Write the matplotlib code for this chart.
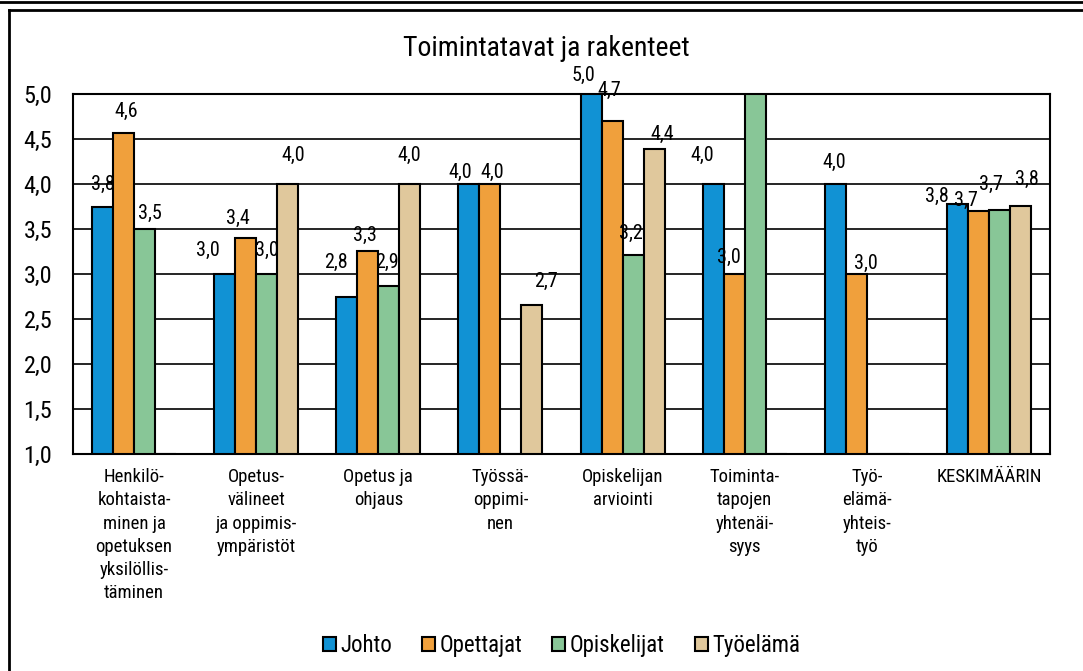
import numpy as np
import matplotlib
matplotlib.use('Agg')
import matplotlib.pyplot as plt
from matplotlib.lines import Line2D

plt.rcParams['font.family'] = ['Roboto Condensed', 'DejaVu Sans']

categories = ['Henkilö-\nkohtaista-\nminen ja\nopetuksen\nyksilöllis-\ntäminen',
              'Opetus-\nvälineet\nja oppimis-\nympäristöt',
              'Opetus ja\nohjaus',
              'Työssä-\noppimi-\nnen',
              'Opiskelijan\narviointi',
              'Toiminta-\ntapojen\nyhtenäi-\nsyys',
              'Työ-\nelämä-\nyhteis-\ntyö',
              'KESKIMÄÄRIN']
series = ['Johto', 'Opettajat', 'Opiskelijat', 'Työelämä']
johto = [3.75, 3.0, 2.75, 4.0, 5.0, 4.0, 4.0, 3.78]
opettajat = [4.57, 3.4, 3.26, 4.0, 4.70, 3.0, 3.0, 3.70]
opiskelijat = [3.5, 3.0, 2.87, 0, 3.21, 5.0, 0, 3.71]
tyoelama = [0, 4.0, 4.0, 2.66, 4.39, 0, 0, 3.76]
colors = ['#1192d4', '#f0a03c', '#88c697', '#e0c89c']

values = [johto, opettajat, opiskelijat, tyoelama]

# label placement (pixels: dx, dy above bar top), as in the original
label_off = {
    (0, 0): (0, 22), (1, 0): (3, 21), (2, 0): (5, 16),
    (0, 1): (-17, 24), (1, 1): (-8, 20), (2, 1): (0, 24), (3, 1): (6, 29),
    (0, 2): (-11, 34), (1, 2): (-3, 15), (2, 2): (-2, 23), (3, 2): (-1, 29),
    (0, 3): (-9, 12), (1, 3): (2, 12), (3, 3): (14, 23),
    (0, 4): (-8, 19), (1, 4): (-3, 31), (2, 4): (-2, 22), (3, 4): (8, 14),
    (0, 5): (-11, 29), (1, 5): (-5, 17),
    (0, 6): (-1, 22), (1, 6): (10, 11),
    (0, 7): (-21, 7), (1, 7): (-12, 11), (2, 7): (-8, 26), (3, 7): (6, 26),
}

fig = plt.figure(figsize=(10.83, 6.71), dpi=100)
ax = fig.add_axes([0.0674, 0.3234, 0.9021, 0.5365])

x = np.arange(len(categories))
w = 0.172
for s, vals in enumerate(values):
    pos = x + (s - 1.5) * w
    h = [max(v - 1, 0) for v in vals]
    ax.bar(pos, h, w, bottom=1, color=colors[s], edgecolor='black', linewidth=1.5,
           label=series[s], zorder=3)
    for i, v in enumerate(vals):
        if (s, i) in label_off:
            dx, dy = label_off[(s, i)]
            ax.annotate(f'{v:.1f}'.replace('.', ','), (pos[i], v),
                        xytext=(dx * 0.72, dy * 0.72),
                        textcoords='offset points', ha='center', va='center',
                        fontsize=14.5, zorder=4)

ax.set_xlim(-0.5, len(categories) - 0.5)
ax.set_ylim(1, 5)
ticks = np.arange(1, 5.01, 0.5)
ax.set_yticks(ticks)
ax.set_yticklabels([f'{t:.1f}'.replace('.', ',') for t in ticks], fontsize=17.5)
ax.yaxis.grid(True, color='black', linewidth=1.2, zorder=0)
ax.tick_params(axis='y', length=0, pad=15)
ax.tick_params(axis='x', length=0, pad=10)
ax.set_xticks(x)
ax.set_xticklabels(categories, fontsize=13.5, linespacing=1.38, va='top')
for sp in ax.spines.values():
    sp.set_linewidth(1.5)

fig.text(0.504, 0.928, 'Toimintatavat ja rakenteet', ha='center', va='center', fontsize=20)

ax.legend(loc='center', bbox_to_anchor=(0.5, -0.532), ncol=4, frameon=False,
          fontsize=16.5, handlelength=0.57, handleheight=0.57, handletextpad=0.2,
          columnspacing=1.3)

# outer frame
fig.add_artist(Line2D([0, 1], [0.997, 0.997], color='black', linewidth=2))
fig.add_artist(Line2D([0.0083, 1], [0.985, 0.985], color='black', linewidth=2))
fig.add_artist(Line2D([0.0083, 0.0083], [0, 0.985], color='black', linewidth=2))

fig.savefig('out.png', dpi=100)
